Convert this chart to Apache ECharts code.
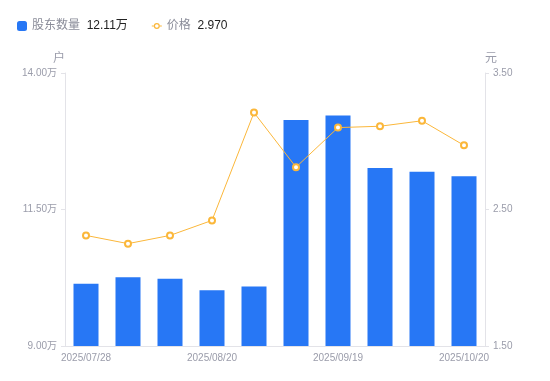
<!DOCTYPE html>
<html><head><meta charset="utf-8">
<script src="https://cdn.jsdelivr.net/npm/echarts@6/dist/echarts.min.js"></script>
<style>html,body{margin:0;padding:0;background:#fff}#c{width:550px;height:381px}</style>
</head><body><div id="c"></div>
<script>
var categories = ['2025/07/28','2025/07/31','2025/08/10','2025/08/20','2025/08/29','2025/09/10','2025/09/19','2025/09/30','2025/10/10','2025/10/20'];
var holders = [10.14, 10.26, 10.23, 10.02, 10.09, 13.14, 13.22, 12.26, 12.19, 12.11];
var prices = [2.31, 2.25, 2.31, 2.42, 3.21, 2.81, 3.10, 3.11, 3.15, 2.97];
var leftTicks = [9, 11.5, 14];
var rightTicks = [1.5, 2.5, 3.5];
var seriesNames = ['股东数量', '价格'];

var chart = echarts.init(document.getElementById('c'));
var lastVals = {};
lastVals[seriesNames[0]] = holders[holders.length-1].toFixed(2) + '万';
lastVals[seriesNames[1]] = prices[prices.length-1].toFixed(3);
var axisGrey = '#9a9caa';
var lineIcon = 'path://M5,0M5,10M0,4.5H2V5.5H0Z M8,4.5H10V5.5H8Z M2,5A3,3 0 1,1 8,5A3,3 0 1,1 2,5Z M3.2,5A1.8,1.8 0 1,0 6.8,5A1.8,1.8 0 1,0 3.2,5Z';
chart.setOption({
  animation: false,
  textStyle: {fontFamily: '"Liberation Sans", "Noto Sans CJK SC", sans-serif'},
  legend: {
    left: 12, top: 15, itemWidth: 10, itemHeight: 10, itemGap: 24,
    data: [{name: seriesNames[0], icon: 'roundRect'},
           {name: seriesNames[1], icon: lineIcon, itemStyle: {color: '#fbb73a', borderWidth: 0}}],
    formatter: function(n){ return '{a|' + n + '}  {b|' + lastVals[n] + '}'; },
    textStyle: {rich: {a: {color: '#8a8c99', fontSize: 12}, b: {color: '#222', fontSize: 12}}}
  },
  grid: {left: 65, right: 65, top: 73, bottom: 35},
  xAxis: {
    type: 'category', data: categories,
    axisLine: {lineStyle: {color: '#e3e3e8'}},
    axisTick: {show: false},
    axisLabel: {interval: 2, color: axisGrey, fontSize: 10, margin: 7}
  },
  yAxis: [{
    type: 'value', min: 9, max: 14, name: '户',
    nameGap: 8,
    nameTextStyle: {color: axisGrey, fontSize: 12, align: 'right'},
    axisLine: {show: true, lineStyle: {color: '#e3e3e8'}},
    axisTick: {show: true, length: 4, customValues: leftTicks, lineStyle: {color: '#e3e3e8'}},
    splitLine: {show: false},
    axisLabel: {customValues: leftTicks, color: axisGrey, fontSize: 10, margin: 8,
      formatter: function(v){ return v.toFixed(2) + '万'; }}
  }, {
    type: 'value', min: 1.5, max: 3.5, name: '元', position: 'right',
    nameGap: 8,
    nameTextStyle: {color: axisGrey, fontSize: 12, align: 'left'},
    axisLine: {show: true, lineStyle: {color: '#e3e3e8'}},
    axisTick: {show: true, length: 4, customValues: rightTicks, lineStyle: {color: '#e3e3e8'}},
    splitLine: {show: false},
    axisLabel: {customValues: rightTicks, color: axisGrey, fontSize: 10, margin: 8,
      formatter: function(v){ return v.toFixed(2); }}
  }],
  series: [{
    name: seriesNames[0], type: 'bar', data: holders, yAxisIndex: 0,
    barWidth: 25, itemStyle: {color: '#2777f5'}
  }, {
    name: seriesNames[1], type: 'line', data: prices, yAxisIndex: 1,
    symbol: 'emptyCircle', symbolSize: 6,
    lineStyle: {color: '#fbb73a', width: 1},
    itemStyle: {color: '#fbb73a', borderWidth: 2}
  }]
});
</script></body></html>
